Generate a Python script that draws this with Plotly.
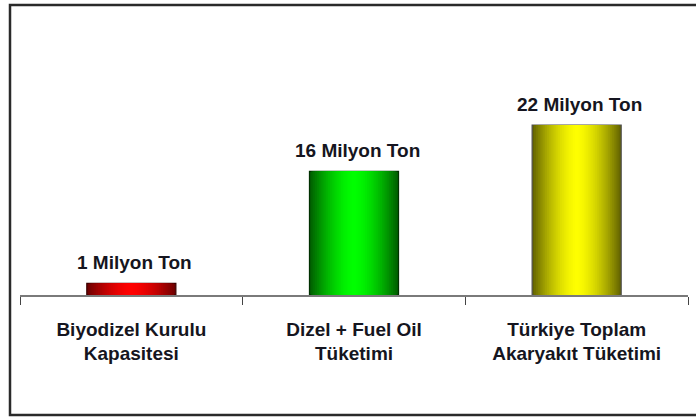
import plotly.graph_objects as go

categories = ["Biyodizel Kurulu<br>Kapasitesi", "Dizel + Fuel Oil<br>Tüketimi", "Türkiye Toplam<br>Akaryakıt Tüketimi"]
values = [1.5, 16, 22]
value_labels = ["1 Milyon Ton", "16 Milyon Ton", "22 Milyon Ton"]

center_colors = [(255, 0, 0), (0, 255, 0), (255, 255, 0)]
edge_colors = [(110, 0, 0), (0, 95, 0), (100, 100, 0)]
outline_colors = ["#3a0000", "#003000", "#505050"]

W, H = 696, 419
L, R, T, B = 20, 8, 30, 124
pw, ph = W - L - R, H - T - B

bar_width = 0.40
N = 24

fig = go.Figure()

def mix(c1, c2, t):
    return "rgb(%d,%d,%d)" % tuple(round(a * (1 - t) + b * t) for a, b in zip(c1, c2))

for k in range(N):
    f = 1 - k / N  # half-width fraction
    t = f ** 1.6
    cols = [mix(c, e, t) for c, e in zip(center_colors, edge_colors)]
    fig.add_trace(go.Bar(
        x=categories, y=values, width=bar_width * f,
        marker=dict(color=cols,
                    line=dict(width=1.2 if k == 0 else 0, color=outline_colors)),
        hoverinfo="skip", showlegend=False,
    ))

for cat, v, lab in zip(categories, values, value_labels):
    fig.add_annotation(x=cat, y=v, text="<b>%s</b>" % lab, showarrow=False,
                       yanchor="bottom", yshift=8, xshift=3,
                       font=dict(size=19, color="#151520"))

fig.add_shape(type="rect", xref="paper", yref="paper",
              x0=(10 - L) / pw, x1=(702 - L) / pw,
              y0=(H - B - 415) / ph, y1=(H - B - 5) / ph,
              line=dict(color="#2a2a2a", width=2.5))

fig.update_layout(
    width=W, height=H,
    margin=dict(l=L, r=R, t=T, b=B),
    barmode="overlay",
    paper_bgcolor="white", plot_bgcolor="white",
    font=dict(family="Liberation Sans, Arial, sans-serif", color="#151520"),
    xaxis=dict(type="category", range=[-0.5, 2.5], showline=True,
               linecolor="#7a7a7a", linewidth=1.5, ticks="outside",
               tickson="boundaries", ticklen=8, tickcolor="#444", tickwidth=1.2,
               showgrid=False, tickfont=dict(size=19, color="#151520"),
               ticklabelstandoff=16,
               tickprefix="<b>", ticksuffix="</b>"),
    yaxis=dict(range=[0, ph / (170 / 22)], visible=False, showgrid=False),
)

fig.write_html("out.html", config={"displayModeBar": False},
               post_script="document.body.style.margin='0';")
